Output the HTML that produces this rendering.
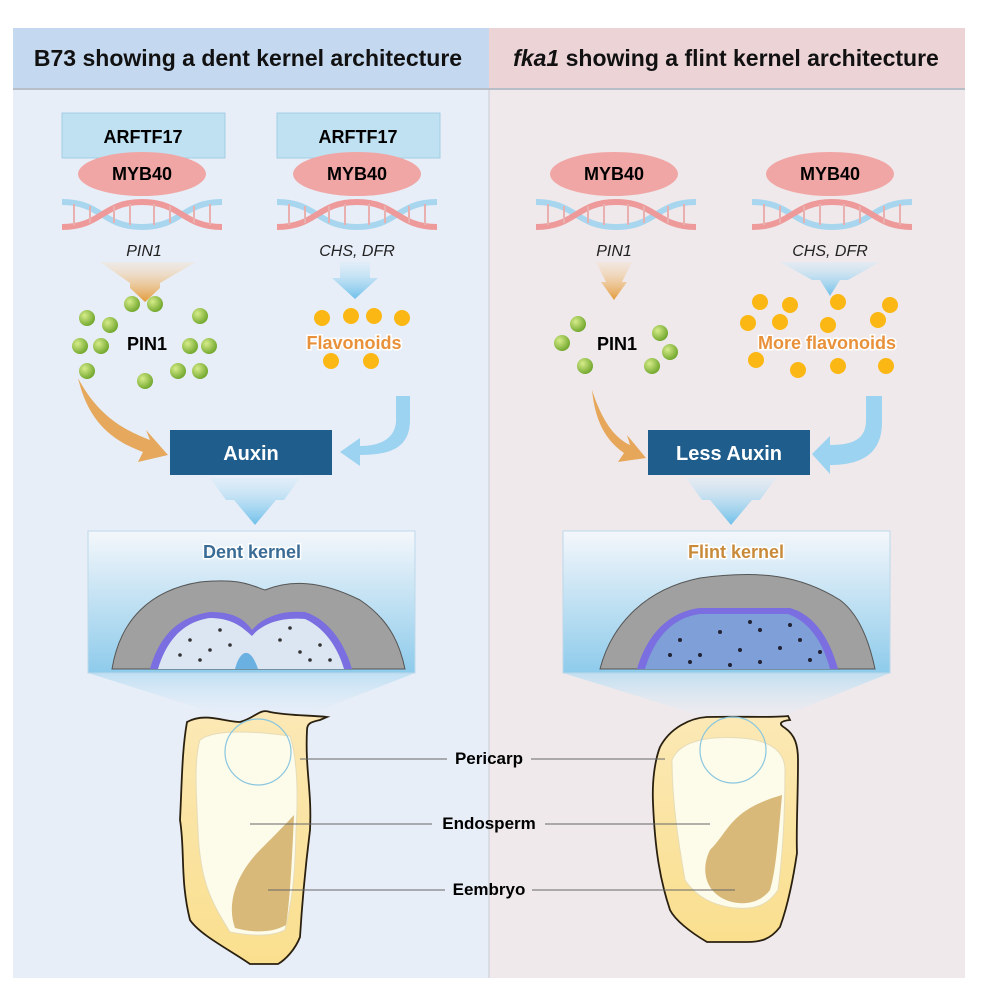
<!DOCTYPE html>
<html><head><meta charset="utf-8"><style>
body{margin:0;background:#fff}
svg{display:block}
text{font-family:"Liberation Sans",Arial,sans-serif}
</style></head><body>
<svg width="983" height="985" viewBox="0 0 983 985" xmlns="http://www.w3.org/2000/svg">
<defs>
<linearGradient id="boxg" x1="0" y1="0" x2="0" y2="1"><stop offset="0" stop-color="#f4f7fb"/><stop offset="1" stop-color="#8ecbeb"/></linearGradient>
<linearGradient id="fun" x1="0" y1="0" x2="0" y2="1"><stop offset="0" stop-color="#b5dcf2"/><stop offset="1" stop-color="#e6eef8" stop-opacity="0.3"/></linearGradient>
<linearGradient id="org" x1="0" y1="0" x2="0" y2="1"><stop offset="0" stop-color="#f7dfc0" stop-opacity="0.3"/><stop offset="1" stop-color="#e39a3a"/></linearGradient>
<linearGradient id="blu" x1="0" y1="0" x2="0" y2="1"><stop offset="0" stop-color="#d6ecf8" stop-opacity="0.4"/><stop offset="1" stop-color="#6fc0ea"/></linearGradient>
<radialGradient id="gd" cx="0.35" cy="0.35" r="0.7"><stop offset="0" stop-color="#d6ec8a"/><stop offset="1" stop-color="#6ea52a"/></radialGradient>
<linearGradient id="kern" x1="0" y1="0" x2="0" y2="1"><stop offset="0" stop-color="#fbe8b5"/><stop offset="1" stop-color="#fadf8e"/></linearGradient>
<g id="dna">
<path d="M0,10 C40,10 40,35 80,35 S120,10 160,10" fill="none" stroke="#a8d6ee" stroke-width="6"/>
<path d="M0,35 C40,35 40,10 80,10 S120,35 160,35" fill="none" stroke="#ee9a9a" stroke-width="6"/>
<g stroke="#e9b0b0" stroke-width="2"><line x1="12" y1="12" x2="12" y2="33"/><line x1="28" y1="14" x2="28" y2="31"/><line x1="52" y1="14" x2="52" y2="31"/><line x1="68" y1="12" x2="68" y2="33"/><line x1="92" y1="12" x2="92" y2="33"/><line x1="108" y1="14" x2="108" y2="31"/><line x1="132" y1="14" x2="132" y2="31"/><line x1="148" y1="12" x2="148" y2="33"/></g>
</g>
<circle id="g" r="8" fill="url(#gd)"/>
<circle id="y" r="8" fill="#fbb714"/>
</defs>
<rect x="13" y="28" width="476" height="950" fill="#e8eef8"/>
<rect x="489" y="28" width="476" height="950" fill="#efe9ec"/>
<line x1="489" y1="28" x2="489" y2="978" stroke="#c8ccd4" stroke-width="1"/>
<rect x="13" y="28" width="476" height="60" fill="#c4d8f0"/>
<rect x="489" y="28" width="476" height="60" fill="#ebd3d6"/>
<line x1="13" y1="89" x2="965" y2="89" stroke="#b8bec8" stroke-width="2"/>
<text x="248" y="66" font-size="23" font-weight="bold" text-anchor="middle" fill="#111">B73 showing a dent kernel architecture</text>
<text x="726" y="66" font-size="23" font-weight="bold" text-anchor="middle" fill="#111"><tspan font-style="italic">fka1</tspan> showing a flint kernel architecture</text>

<rect x="62" y="113" width="163" height="45" fill="#bfe1f1" stroke="#a3cde2"/>
<rect x="277" y="113" width="163" height="45" fill="#bfe1f1" stroke="#a3cde2"/>
<text x="143" y="143" font-size="18" font-weight="bold" text-anchor="middle">ARFTF17</text>
<text x="358" y="143" font-size="18" font-weight="bold" text-anchor="middle">ARFTF17</text>
<use href="#dna" x="62" y="192"/><use href="#dna" x="277" y="192"/>
<use href="#dna" x="536" y="192"/><use href="#dna" x="752" y="192"/>
<g fill="#f0a6a5">
<ellipse cx="142" cy="174" rx="64" ry="22"/><ellipse cx="357" cy="174" rx="64" ry="22"/>
<ellipse cx="614" cy="174" rx="64" ry="22"/><ellipse cx="830" cy="174" rx="64" ry="22"/>
</g>
<g font-size="18" font-weight="bold" text-anchor="middle">
<text x="142" y="180">MYB40</text><text x="357" y="180">MYB40</text>
<text x="614" y="180">MYB40</text><text x="830" y="180">MYB40</text>
</g>
<g font-size="16" font-style="italic" text-anchor="middle" fill="#222">
<text x="144" y="256">PIN1</text><text x="357" y="256">CHS, DFR</text>
<text x="614" y="256">PIN1</text><text x="830" y="256">CHS, DFR</text>
</g>
<path d="M100,262 L196,262 L160,283 L160,288 L145,302 L130,288 L130,283 Z" fill="url(#org)"/>
<path d="M340,262 L370,262 L370,278 L378,278 L355,299 L332,278 L340,278 Z" fill="url(#blu)"/>
<path d="M596,262 L632,262 L622,282 L627,282 L614,300 L601,282 L606,282 Z" fill="url(#org)"/>
<path d="M780,262 L880,262 L848,280 L840,280 L830,296 L820,280 L812,280 Z" fill="url(#blu)"/>
<use href="#g" x="132" y="304"/><use href="#g" x="155" y="304"/>
<use href="#g" x="87" y="318"/><use href="#g" x="110" y="325"/><use href="#g" x="200" y="316"/>
<use href="#g" x="80" y="346"/><use href="#g" x="101" y="346"/><use href="#g" x="190" y="346"/><use href="#g" x="209" y="346"/>
<use href="#g" x="87" y="371"/><use href="#g" x="178" y="371"/><use href="#g" x="200" y="371"/><use href="#g" x="145" y="381"/>
<text x="147" y="350" font-size="18" font-weight="bold" text-anchor="middle">PIN1</text>
<use href="#y" x="322" y="318"/><use href="#y" x="351" y="316"/><use href="#y" x="374" y="316"/><use href="#y" x="402" y="318"/>
<use href="#y" x="331" y="361"/><use href="#y" x="371" y="361"/>
<text x="354" y="349" font-size="18" font-weight="bold" text-anchor="middle" fill="#e8913a" stroke="#fff" stroke-width="3" paint-order="stroke">Flavonoids</text>
<use href="#g" x="578" y="324"/><use href="#g" x="562" y="343"/><use href="#g" x="660" y="333"/><use href="#g" x="670" y="352"/><use href="#g" x="585" y="366"/><use href="#g" x="652" y="366"/>
<text x="617" y="350" font-size="18" font-weight="bold" text-anchor="middle">PIN1</text>
<use href="#y" x="760" y="302"/><use href="#y" x="790" y="305"/><use href="#y" x="838" y="302"/><use href="#y" x="890" y="305"/>
<use href="#y" x="748" y="323"/><use href="#y" x="780" y="322"/><use href="#y" x="828" y="325"/><use href="#y" x="878" y="320"/>
<use href="#y" x="756" y="360"/><use href="#y" x="798" y="370"/><use href="#y" x="838" y="366"/><use href="#y" x="886" y="366"/>
<text x="827" y="349" font-size="18" font-weight="bold" text-anchor="middle" fill="#e8913a" stroke="#fff" stroke-width="3" paint-order="stroke">More flavonoids</text>
<path d="M78,378 C100,420 130,432 150,440 L146,430 L168,455 L138,462 L143,452 C110,440 88,420 78,378 Z" fill="#e4a04a" opacity="0.9"/>
<path d="M396,396 L410,396 L410,420 C410,448 390,455 360,455 L360,466 L340,452 L360,438 L360,446 C385,446 396,435 396,420 Z" fill="#9bd3f0"/>
<path d="M592,390 C605,430 620,440 630,445 L627,435 L646,458 L618,462 L624,453 C605,440 595,420 592,390 Z" fill="#e4a04a" opacity="0.9"/>
<path d="M866,396 L882,396 L882,422 C882,455 860,465 830,465 L830,474 L812,454 L830,436 L830,445 C855,445 866,438 866,420 Z" fill="#9bd3f0"/>
<rect x="170" y="430" width="162" height="45" fill="#1f5d8c"/>
<rect x="648" y="430" width="162" height="45" fill="#1f5d8c"/>
<text x="251" y="460" font-size="20" font-weight="bold" fill="#fff" text-anchor="middle">Auxin</text>
<text x="729" y="460" font-size="20" font-weight="bold" fill="#fff" text-anchor="middle">Less Auxin</text>
<path d="M210,478 L300,478 L284,500 L276,500 L255,525 L234,500 L226,500 Z" fill="url(#blu)"/>
<path d="M686,478 L776,478 L760,500 L752,500 L731,525 L710,500 L702,500 Z" fill="url(#blu)"/>
<path d="M88,673 L415,673 L300,718 L230,718 Z" fill="url(#fun)" opacity="0.8"/>
<path d="M563,673 L890,673 L778,718 L708,718 Z" fill="url(#fun)" opacity="0.8"/>
<rect x="88" y="531" width="327" height="142" fill="url(#boxg)" stroke="#bcd8ea"/>
<rect x="563" y="531" width="327" height="142" fill="url(#boxg)" stroke="#bcd8ea"/>
<text x="252" y="558" font-size="18" font-weight="bold" text-anchor="middle" fill="#3a6c96" stroke="#fff" stroke-width="3" paint-order="stroke">Dent kernel</text>
<text x="736" y="558" font-size="18" font-weight="bold" text-anchor="middle" fill="#c98a3a" stroke="#fff" stroke-width="3" paint-order="stroke">Flint kernel</text>
<path d="M112,669 C120,620 150,590 200,582 C240,578 250,585 265,590 C290,580 320,580 360,600 C390,620 400,645 405,669 Z" fill="#a0a0a0" stroke="#555"/>
<path d="M150,669 C158,640 175,617 210,612 C235,612 245,620 252,630 C262,618 280,610 305,612 C330,620 345,645 352,669 Z" fill="#7a6ee0"/>
<path d="M158,669 C165,645 180,622 210,618 C233,618 243,628 252,636 C262,624 280,617 305,619 C325,628 338,648 344,669 Z" fill="#dbe6f2"/>
<g fill="#333"><circle cx="190" cy="640" r="1.8"/><circle cx="210" cy="650" r="1.8"/><circle cx="230" cy="645" r="1.8"/><circle cx="280" cy="640" r="1.8"/><circle cx="300" cy="652" r="1.8"/><circle cx="320" cy="645" r="1.8"/><circle cx="200" cy="660" r="1.8"/><circle cx="310" cy="660" r="1.8"/><circle cx="180" cy="655" r="1.8"/><circle cx="220" cy="630" r="1.8"/><circle cx="290" cy="628" r="1.8"/><circle cx="330" cy="660" r="1.8"/></g>
<path d="M235,669 C240,650 250,645 258,669 Z" fill="#6ab0e0"/>
<path d="M600,669 C610,630 640,590 700,578 C760,570 800,575 840,600 C860,615 870,645 875,669 Z" fill="#a0a0a0" stroke="#555"/>
<path d="M637,669 C645,640 665,612 700,608 L790,608 C815,615 830,640 838,669 Z" fill="#7a6ee0"/>
<path d="M645,669 C652,645 668,618 700,614 L788,614 C810,622 823,643 830,669 Z" fill="#7f9fd8"/>
<g fill="#223"><circle cx="680" cy="640" r="2"/><circle cx="700" cy="655" r="2"/><circle cx="720" cy="632" r="2"/><circle cx="740" cy="650" r="2"/><circle cx="760" cy="630" r="2"/><circle cx="780" cy="648" r="2"/><circle cx="800" cy="640" r="2"/><circle cx="690" cy="662" r="2"/><circle cx="760" cy="662" r="2"/><circle cx="810" cy="660" r="2"/><circle cx="670" cy="655" r="2"/><circle cx="730" cy="665" r="2"/><circle cx="750" cy="622" r="2"/><circle cx="790" cy="625" r="2"/><circle cx="820" cy="652" r="2"/></g>
<path d="M187,722 C205,712 225,722 240,722 C255,718 260,708 270,712 C290,716 310,715 327,717 L320,720 C310,722 307,724 307,730 C305,770 312,790 310,830 C305,870 302,905 300,937 C295,950 285,960 278,964 L250,964 C230,950 200,935 190,920 C180,880 185,850 180,820 C182,780 182,750 187,722 Z" fill="url(#kern)" stroke="#2a2010" stroke-width="1.8"/>
<path d="M200,740 C215,728 260,732 290,736 C298,760 298,800 296,830 C295,880 292,900 285,930 C270,938 245,935 230,932 C210,900 200,880 198,830 C196,790 194,760 200,740 Z" fill="#fdfbea" stroke="#e6dcb8"/>
<path d="M294,815 C292,860 290,900 286,925 C270,934 250,932 235,928 C225,900 240,870 260,850 C275,835 285,825 294,815 Z" fill="#d8b97a"/>
<circle cx="258" cy="752" r="33" fill="none" stroke="#8ac7df" stroke-width="1.2"/>
<path d="M660,747 C670,728 690,718 707,717 C740,716 770,718 788,716 L790,720 C780,721 778,724 785,728 C795,735 798,745 798,760 C798,800 796,830 797,853 C793,880 788,905 780,927 C770,940 760,942 747,942 L707,942 C690,932 675,920 670,910 C660,880 655,850 653,803 C652,780 655,760 660,747 Z" fill="url(#kern)" stroke="#2a2010" stroke-width="1.8"/>
<path d="M672,760 C680,740 710,736 740,738 C775,740 785,755 785,770 C785,820 782,860 778,890 C768,905 755,910 735,908 C710,905 695,895 685,880 C678,840 672,800 672,760 Z" fill="#fdfbea" stroke="#e6dcb8"/>
<path d="M782,795 C778,840 776,870 770,890 C760,903 745,905 732,902 C705,895 700,870 710,850 C730,830 730,810 782,795 Z" fill="#d8b97a"/>
<circle cx="733" cy="750" r="33" fill="none" stroke="#8ac7df" stroke-width="1.2"/>
<g stroke="#666" stroke-width="1">
<line x1="300" y1="759" x2="447" y2="759"/><line x1="531" y1="759" x2="665" y2="759"/>
<line x1="250" y1="824" x2="432" y2="824"/><line x1="545" y1="824" x2="710" y2="824"/>
<line x1="268" y1="890" x2="445" y2="890"/><line x1="532" y1="890" x2="735" y2="890"/>
</g>
<g font-size="17" font-weight="bold" text-anchor="middle">
<text x="489" y="764">Pericarp</text>
<text x="489" y="829">Endosperm</text>
<text x="489" y="895">Eembryo</text>
</g>
</svg>
</body></html>
